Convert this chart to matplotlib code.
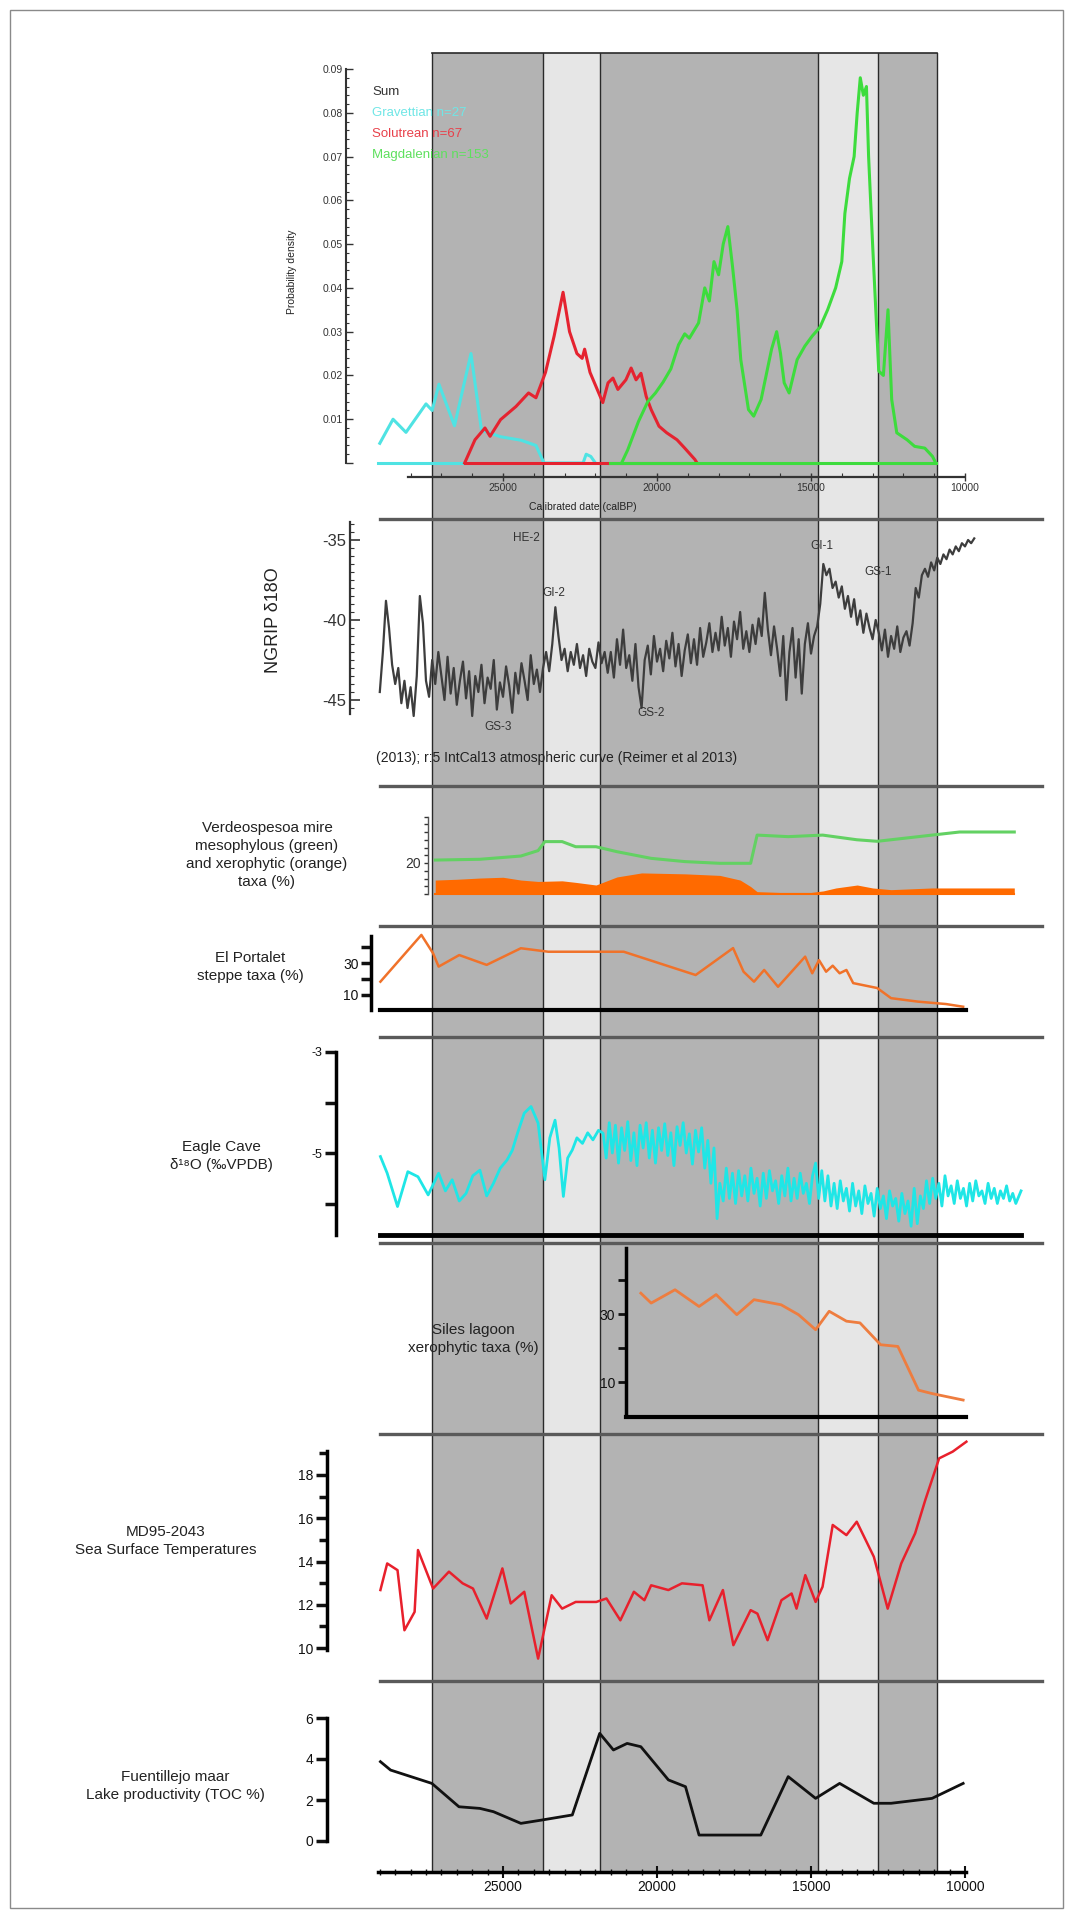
import numpy as np
import matplotlib
matplotlib.use("Agg")
import matplotlib.pyplot as plt
from matplotlib.lines import Line2D
from matplotlib.patches import Rectangle

plt.rcParams["font.family"] = ["Liberation Sans", "DejaVu Sans"]
plt.rcParams["axes.unicode_minus"] = False

# ---------------- data (ages in cal BP) ----------------
band_edges = [27290, 23710, 21840, 14770, 12820, 10910]
band_colors = ["#b3b3b3", "#e6e6e6", "#b3b3b3", "#e6e6e6", "#b3b3b3"]

# summed probability densities
legend_labels = ["Sum", "Gravettian n=27", "Solutrean n=67", "Magdalenian n=153"]
grav_base_t = [29050, 26250]
grav_t = [29000, 28570, 28150, 27500, 27300, 27080, 26575, 26040, 25700, 25080,
          24415, 23930, 23670, 22400, 22300, 22150, 22000]
grav_v = [0.0045, 0.010, 0.007, 0.0135, 0.012, 0.018, 0.0085, 0.025, 0.0075, 0.006,
          0.0052, 0.004, 0.0, 0.0, 0.002, 0.0015, 0.0]
solu_t = [26245, 25910, 25585, 25420, 25080, 24580, 24170, 23930, 23620, 23340,
          23050, 22840, 22600, 22430, 22350, 22175, 21760, 21590, 21430, 21270,
          21010, 20840, 20680, 20520, 20350, 20190, 19935, 19685, 19350, 19100,
          18770, 18700]
solu_v = [0.0, 0.0053, 0.008, 0.0061, 0.0099, 0.0129, 0.016, 0.0149, 0.0207, 0.029,
          0.039, 0.030, 0.025, 0.0239, 0.026, 0.0207, 0.0138, 0.0183, 0.0194, 0.0168,
          0.019, 0.0217, 0.019, 0.0205, 0.0152, 0.0122, 0.0084, 0.0069, 0.0053, 0.0034,
          0.0008, 0.0]
solu_base_t = [26245, 18700]
magd_base_t = [21510, 10950]
magd_t = [21150, 20950, 20600, 20300, 20050, 19800, 19550, 19300, 19100, 18950,
          18650, 18450, 18300, 18150, 18000, 17850, 17700, 17550, 17400, 17280,
          17030, 16860, 16620, 16280, 16115, 15990, 15870, 15710, 15450, 15200,
          14960, 14710, 14460, 14200, 14000, 13900, 13750, 13600, 13500, 13400,
          13300, 13200, 13130, 13000, 12800, 12650, 12500, 12380, 12215, 11880,
          11635, 11305, 11055, 10950]
magd_v = [0.0, 0.0030, 0.0095, 0.0140, 0.0160, 0.0185, 0.0215, 0.027, 0.0295, 0.0285,
          0.032, 0.040, 0.037, 0.046, 0.043, 0.050, 0.054, 0.045, 0.035, 0.0236,
          0.0122, 0.0107, 0.0145, 0.026, 0.030, 0.025, 0.0183, 0.016, 0.0236, 0.0267,
          0.029, 0.031, 0.035, 0.040, 0.046, 0.057, 0.065, 0.070, 0.080, 0.088,
          0.084, 0.086, 0.070, 0.050, 0.021, 0.020, 0.035, 0.0145, 0.0069, 0.0053,
          0.0038, 0.0034, 0.0015, 0.0]

# NGRIP d18O, 100-yr samples from 29000 cal BP
ngrip_start, ngrip_step = 29000, 100
ngrip_v = [-44.5, -42.0, -38.8, -40.5, -42.8, -44.0, -43.0, -45.2, -43.8, -45.5,
           -44.2, -46.0, -43.5, -38.5, -40.2, -43.8, -44.8, -42.5, -44.0, -42.0,
           -43.5, -45.0, -42.3, -44.6, -43.0, -45.3, -43.8, -42.6, -44.9, -43.2,
           -46.0, -43.5, -44.5, -42.8, -45.2, -43.6, -44.3, -42.5, -45.6, -43.9,
           -44.8, -42.9, -44.1, -45.8, -43.3, -44.6, -42.7, -43.8, -45.0, -42.2,
           -44.0, -43.1, -44.5, -43.0, -42.0, -43.2,
           -41.5, -39.2, -41.0, -42.5, -41.8,
           -43.2, -42.0, -42.8, -41.5, -43.0, -42.2, -43.5, -41.8, -42.6, -43.0,
           -41.4, -42.7, -42.0, -43.3,
           -42.0, -43.6, -41.2, -42.8, -40.6, -43.0, -42.2, -43.8, -41.5, -44.2,
           -45.5, -42.5, -41.6, -43.4, -41.0, -42.6, -41.8, -43.2, -41.3, -42.4,
           -40.8, -42.9, -41.5, -43.5, -41.9, -40.9, -42.7, -41.2, -42.8, -40.5,
           -42.3, -41.4,
           -40.2, -42.0, -40.8, -41.9, -39.8, -41.6, -40.5, -42.3, -40.1, -41.2,
           -39.5, -41.8, -40.7, -42.0, -40.3, -41.5, -39.9, -41.0, -38.3, -40.6,
           -42.2, -40.4, -41.8, -43.5, -41.0, -45.0, -42.0, -40.5, -43.6, -41.2,
           -44.6, -41.5, -40.2, -42.1, -41.0, -40.4, -39.0,
           -36.5, -37.2, -36.8, -38.0, -37.6, -38.6, -37.9, -39.3, -38.5, -39.8,
           -38.7, -40.3, -39.4, -40.8, -39.6, -40.5, -41.2, -40.0,
           -40.8, -41.9, -40.6, -42.3, -41.0, -41.8, -40.4, -42.0, -41.1, -40.7,
           -41.6, -40.2,
           -38.0, -38.6, -37.2, -36.8, -37.3, -36.4, -36.9, -36.1, -36.5, -35.9,
           -36.2, -35.6, -35.9, -35.4, -35.7, -35.2, -35.4, -35.0, -35.2, -34.9]
ngrip_labels = ["HE-2", "GI-2", "GS-3", "GS-2", "GI-1", "GS-1"]
ngrip_label_t = [24230, 23340, 25160, 20200, 14640, 12810]
ngrip_label_v = [-34.9, -38.3, -46.7, -45.8, -35.4, -37.0]

# Verdeospesoa mire
verd_green_t = [27200, 25750, 24420, 23860, 23640, 23080, 22640, 21980, 21300, 20190,
                19090, 17960, 16960, 16750, 15740, 14620, 13515, 12850, 12400, 11070,
                10175, 8400]
verd_green_v = [21.9, 22.4, 24.5, 28.0, 33.8, 33.8, 30.5, 30.5, 27.3, 23.0,
                20.9, 19.8, 19.8, 38.0, 37.0, 38.0, 35.0, 34.0, 35.0, 38.0,
                40.0, 40.0]
verd_orange_t = [27200, 26500, 25750, 25000, 24420, 23860, 23080, 22640, 21980, 21300,
                 20500, 19090, 17960, 17300, 16960, 16750, 16000, 15000, 14600, 14190,
                 13500, 13000, 12400, 11070, 8400]
verd_orange_v = [9.0, 9.5, 10.3, 10.8, 9.0, 8.1, 8.5, 7.5, 5.8, 11.0,
                 13.6, 13.0, 12.0, 9.0, 4.8, 1.5, 1.0, 1.0, 2.0, 3.9,
                 5.8, 3.9, 2.8, 3.9, 3.9]

# El Portalet steppe taxa
port_t = [28980, 27650, 27270, 27090, 26420, 25530, 24420, 23530, 21980, 21080,
          18745, 17530, 17190, 16850, 16520, 16070, 15630, 15190, 14960, 14740,
          14510, 14295, 14070, 13850, 13630, 12850, 12400, 11520, 10620, 10060]
port_v = [18.4, 47.9, 36.3, 27.9, 35.2, 29.0, 39.5, 37.3, 37.3, 37.3,
          22.6, 39.6, 24.7, 18.4, 25.8, 15.2, 24.7, 34.2, 23.7, 32.0,
          24.7, 28.5, 23.7, 25.8, 17.5, 14.4, 8.0, 5.8, 4.3, 2.6]

# Eagle Cave d18O
eagle_t = [28980, 28760, 28425, 28090, 27760, 27430, 27090, 26870, 26650, 26420,
           26200, 25980, 25750, 25530, 25310, 25090, 24870, 24700, 24530, 24310,
           24090, 23860, 23640, 23480, 23310, 23180, 23040, 22900, 22750, 22600,
           22420, 22250, 22080, 21900, 21750,
           21650, 21550, 21450, 21350, 21250, 21150, 21050, 20950, 20850, 20750,
           20650, 20550, 20450, 20350, 20250, 20150, 20050, 19950, 19850, 19750,
           19650, 19550, 19450, 19350, 19250, 19150, 19050, 18950, 18850, 18750,
           18650, 18550, 18450, 18350, 18250, 18150, 18050, 17960,
           17850, 17750, 17650, 17550, 17450, 17350, 17250, 17150, 17050, 16950,
           16850, 16750, 16650, 16550, 16450, 16350, 16250, 16150, 16050, 15950,
           15850, 15750, 15650, 15550, 15450, 15350, 15250, 15150, 15050, 14950,
           14850, 14750, 14650,
           14550, 14450, 14350, 14250, 14150, 14050, 13950, 13850, 13750, 13650,
           13550, 13450, 13350, 13250, 13150, 13050, 12950, 12850, 12750, 12650,
           12550, 12450, 12350, 12250, 12150, 12050, 11950, 11850, 11750, 11650,
           11550, 11450, 11350, 11250,
           11150, 11050, 10950, 10850, 10750, 10650, 10550, 10450, 10350, 10250,
           10150, 10050, 9950, 9850, 9750, 9650, 9550, 9450, 9350, 9250,
           9150, 9050, 8950, 8850, 8750, 8650, 8550, 8450, 8350, 8250, 8180]
eagle_v = [-5.07, -5.40, -6.06, -5.37, -5.47, -5.83, -5.40, -5.75, -5.53, -5.95,
           -5.80, -5.45, -5.34, -5.85, -5.60, -5.30, -5.14, -4.95, -4.61, -4.21,
           -4.08, -4.41, -5.53, -4.70, -4.35, -4.90, -5.86, -5.10, -4.94, -4.70,
           -4.81, -4.60, -4.74, -4.55, -4.61,
           -5.10, -4.40, -5.00, -4.45, -5.20, -4.50, -4.95, -4.38, -5.15, -4.60,
           -5.25, -4.45, -4.90, -4.40, -5.10, -4.55, -5.20, -4.50, -4.95, -4.42,
           -5.05, -4.60, -5.25, -4.48, -4.85, -4.40, -5.00, -4.62, -5.22, -4.55,
           -4.98, -4.50, -5.30, -4.75, -5.60, -4.90, -6.30, -5.60,
           -5.95, -5.30, -5.90, -5.40, -6.00, -5.35, -5.85, -5.45, -5.95, -5.30,
           -5.80, -5.50, -6.05, -5.40, -5.90, -5.35, -5.75, -5.55, -6.00, -5.45,
           -5.85, -5.30, -5.95, -5.50, -5.90, -5.40, -5.80, -5.60, -6.00, -5.45,
           -5.20, -5.90, -5.35,
           -5.95, -5.45, -6.05, -5.60, -6.10, -5.55, -5.95, -5.70, -6.15, -5.60,
           -6.05, -5.75, -6.20, -5.65, -6.00, -5.80, -6.25, -5.70, -6.10, -5.85,
           -6.30, -5.75, -6.05, -5.90, -6.35, -5.80, -6.20, -5.95, -6.45, -5.70,
           -6.40, -5.85, -6.10, -5.55,
           -6.00, -5.50, -5.90, -5.60, -6.05, -5.45, -5.85, -5.65, -6.00, -5.55,
           -5.90, -5.70, -6.05, -5.60, -5.95, -5.55, -5.85, -5.75, -6.00, -5.60,
           -5.90, -5.70, -6.00, -5.75, -5.90, -5.65, -5.95, -5.80, -6.00, -5.85, -5.75]

# Siles lagoon xerophytic taxa
siles_t = [20525, 20190, 19415, 18635, 18080, 17410, 16850, 15970, 15405, 14850,
           14410, 13850, 13410, 12740, 12180, 11510, 11070, 10060]
siles_v = [36.1, 33.2, 37.1, 32.2, 35.7, 29.8, 34.2, 32.7, 29.8, 25.4,
           30.8, 27.9, 27.4, 21.0, 20.5, 7.7, 6.7, 4.8]

# MD95-2043 SST
md95_t = [28980, 28760, 28425, 28200, 27870, 27760, 27270, 26755, 26310, 25975,
          25530, 25020, 24750, 24310, 23860, 23420, 23080, 22640, 21970, 21640,
          21190, 20750, 20410, 20190, 19630, 19190, 18520, 18300, 17860, 17520,
          16960, 16740, 16410, 15960, 15630, 15470, 15185, 14850, 14625, 14295,
          13850, 13515, 12960, 12510, 12070, 11620, 11290, 10840, 10400, 9955]
md95_v = [12.68, 13.91, 13.6, 10.82, 11.67, 14.53, 12.75, 13.53, 12.99, 12.75,
          11.36, 13.68, 12.06, 12.6, 9.51, 12.44, 11.82, 12.13, 12.13, 12.29,
          11.28, 12.6, 12.21, 12.9, 12.68, 12.99, 12.9, 11.28, 12.68, 10.13,
          11.75, 11.59, 10.36, 12.21, 12.52, 11.82, 13.37, 12.13, 12.83, 15.69,
          15.22, 15.84, 14.22, 11.82, 13.91, 15.3, 16.84, 18.77, 19.08, 19.54]

# Fuentillejo maar TOC
fuen_t = [28980, 28650, 27990, 27310, 26870, 26430, 25750, 25310, 24420, 23750,
          22750, 21860, 21415, 20970, 20525, 19630, 19075, 18635, 17960, 16630,
          15740, 14850, 14070, 12960, 12400, 11070, 10060]
fuen_v = [3.87, 3.46, 3.14, 2.81, 2.24, 1.67, 1.59, 1.43, 0.86, 1.02,
          1.27, 5.25, 4.44, 4.76, 4.6, 2.98, 2.65, 0.29, 0.29, 0.29,
          3.14, 2.08, 2.81, 1.84, 1.84, 2.08, 2.81]

# ---------------- layout helpers (pixel geometry of the page) ----------------
W, H = 1073, 1921
L, R = 250, 1060
fig = plt.figure(figsize=(W / 100, H / 100), dpi=100)


def age_at(px):
    return 25000 - (px - 503) / 0.0308


def panel(top, bot, va, ya, vb, yb):
    ax = fig.add_axes([L / W, 1 - bot / H, (R - L) / W, (bot - top) / H])
    ax.set_xlim(age_at(L), age_at(R))
    upp = (vb - va) / (ya - yb)
    ax.set_ylim(va - (bot - ya) * upp, va + (ya - top) * upp)
    ax.patch.set_visible(False)
    for s in ["top", "right", "bottom"]:
        ax.spines[s].set_visible(False)
    ax.set_xticks([])
    ax.box = (top, bot)
    return ax


def left_axis(ax, px, lo, hi, lw=2.5, color="k"):
    sp = ax.spines["left"]
    sp.set_position(("axes", (px - L) / (R - L)))
    sp.set_bounds(lo, hi)
    sp.set_linewidth(lw)
    sp.set_color(color)


def base_line(ax, py, px0, px1, lw=3, color="k"):
    top, bot = ax.box
    sp = ax.spines["bottom"]
    sp.set_visible(True)
    sp.set_position(("axes", (bot - py) / (bot - top)))
    sp.set_bounds(age_at(px0), age_at(px1))
    sp.set_linewidth(lw)
    sp.set_color(color)


def ftext(px, py, s, **kw):
    fig.text(px / W, 1 - py / H, s, **kw)


# ---------------- background bands ----------------
ax_bg = fig.add_axes([L / W, 1 - 1872 / H, (R - L) / W, (1872 - 53) / H])
ax_bg.set_xlim(age_at(L), age_at(R))
ax_bg.set_ylim(0, 1)
ax_bg.axis("off")
for i, c in enumerate(band_colors):
    ax_bg.axvspan(band_edges[i], band_edges[i + 1], color=c, lw=0)
for e in band_edges:
    ax_bg.axvline(e, color="#2a2a2a", lw=1)
ax_bg.plot([band_edges[0], band_edges[-1]], [1, 1], color="#2a2a2a", lw=1.2, clip_on=False)

txt = "#222222"

# ---------------- 1. summed probability ----------------
ax1 = panel(55, 500, 0, 463, 0.09, 69)
left_axis(ax1, 346, 0, 0.09, lw=1.5, color="#333333")
ax1.set_yticks(np.arange(0, 0.0901, 0.01))
ax1.set_yticklabels([""] + ["%.2f" % v for v in np.arange(0.01, 0.0901, 0.01)])
ax1.set_yticks(np.arange(0, 0.0901, 0.002), minor=True)
ax1.tick_params(axis="y", which="major", direction="in", length=5, width=1, labelsize=7.5,
                colors="#333333", pad=2)
ax1.tick_params(axis="y", which="minor", direction="in", length=2, width=0.8, colors="#333333")
base_line(ax1, 477, 408, 964, lw=1.6, color="#333333")
ax1.set_xticks([25000, 20000, 15000, 10000])
ax1.set_xticks(np.arange(28000, 9999, -1000), minor=True)
ax1.tick_params(axis="x", which="major", direction="inout", length=6, width=1, labelsize=7.5,
                colors="#333333", pad=1)
ax1.tick_params(axis="x", which="minor", direction="in", length=3, width=0.8, colors="#333333")
ax1.plot(grav_base_t, [0, 0], color="#4fe3e3", lw=2.2)
ax1.plot(grav_t, grav_v, color="#4fe3e3", lw=2.2)
ax1.plot(solu_base_t, [0, 0], color="#e52330", lw=2.2)
ax1.plot(solu_t, solu_v, color="#e52330", lw=2.2)
ax1.plot(magd_base_t, [0, 0], color="#3ddc3d", lw=2.2)
ax1.plot(magd_t, magd_v, color="#3ddc3d", lw=2.2)
leg_colors = ["#333333", "#6fe6e6", "#e8404a", "#5ee05e"]
for i, (lab, c) in enumerate(zip(legend_labels, leg_colors)):
    ftext(372, 92 + 21 * i, lab, color=c, fontsize=9.5, va="center", ha="left")
ftext(292, 272, "Probability density", rotation=90, fontsize=7.5, color=txt,
      ha="center", va="center")
ftext(583, 507, "Calibrated date (calBP)", fontsize=7.5, color=txt, ha="center", va="center")

# ---------------- 2. NGRIP ----------------
ax2 = panel(519, 786, -45, 700, -35, 540)
left_axis(ax2, 350, -45.9, -33.9, lw=1.6, color="#333333")
ax2.set_yticks([-45, -40, -35])
ax2.set_yticks(np.arange(-45.5, -33.9, 0.5), minor=True)
ax2.tick_params(axis="y", which="major", direction="in", length=7, width=1.2, labelsize=12,
                colors="#333333", pad=3)
ax2.tick_params(axis="y", which="minor", direction="in", length=3, width=0.8, colors="#333333")
ngrip_t = np.arange(ngrip_start, ngrip_start - ngrip_step * len(ngrip_v), -ngrip_step)
ax2.plot(ngrip_t, ngrip_v, color="#3d3d3d", lw=1.6)
for lab, t, v in zip(ngrip_labels, ngrip_label_t, ngrip_label_v):
    ax2.text(t, v, lab, fontsize=8.5, color="#333333", ha="center", va="center")
ftext(273, 620, "NGRIP δ18O", rotation=90, fontsize=13, color=txt, ha="center", va="center")
ftext(376, 758, "(2013); r:5 IntCal13 atmospheric curve (Reimer et al 2013)", fontsize=10,
      color=txt, ha="left", va="center")

# ---------------- 3. Verdeospesoa ----------------
ax3 = panel(786, 926, 0, 894, 20, 863)
left_axis(ax3, 428, 0, 50, lw=1, color="#555555")
ax3.set_yticks(np.arange(0, 51, 5))
ax3.set_yticklabels(["20" if v == 20 else "" for v in range(0, 51, 5)])
ax3.tick_params(axis="y", direction="out", length=3, width=1, labelsize=10, colors="#333333", pad=2)
ax3.fill_between(verd_orange_t, 0, verd_orange_v, color="#ff6a00", lw=0)
ax3.plot([verd_orange_t[0], verd_orange_t[-1]], [0.3, 0.3], color="#ff6a00", lw=1.5)
ax3.plot(verd_green_t, verd_green_v, color="#63d163", lw=2.2)
ftext(267, 855, "Verdeospesoa mire\nmesophylous (green)\nand xerophytic (orange)\ntaxa (%)",
      fontsize=11, color=txt, ha="center", va="center", multialignment="center", linespacing=1.35)

# ---------------- 4. El Portalet ----------------
ax4 = panel(926, 1037, 10, 995, 30, 963.3)
left_axis(ax4, 371, 0.5, 47.5)
ax4.set_yticks([10, 20, 30, 40])
ax4.set_yticklabels(["10", "", "30", ""])
ax4.tick_params(axis="y", direction="out", length=7, width=2.5, labelsize=10, colors="#111111", pad=2)
base_line(ax4, 1010, 380, 966, lw=3)
ax4.plot(port_t, port_v, color="#f0722a", lw=1.8)
ftext(250, 967, "El Portalet\nsteppe taxa (%)", fontsize=11, color=txt, ha="center",
      va="center", multialignment="center", linespacing=1.35)

# ---------------- 5. Eagle Cave ----------------
ax5 = panel(1037, 1243, -5, 1153, -3, 1052)
left_axis(ax5, 336, -6.62, -3)
ax5.set_yticks([-6, -5, -4, -3])
ax5.set_yticklabels(["", "-5", "", "-3"])
ax5.tick_params(axis="y", direction="out", length=8, width=2.5, labelsize=9, colors="#111111", pad=2)
base_line(ax5, 1235, 380, 1021, lw=3.5)
ax5.plot(eagle_t, eagle_v, color="#1fe6e6", lw=2)
ftext(221, 1156, "Eagle Cave\nδ¹⁸O (‰VPDB)", fontsize=11, color=txt, ha="center",
      va="center", multialignment="center", linespacing=1.35)

# ---------------- 6. Siles ----------------
ax6 = panel(1243, 1434, 10, 1382.3, 30, 1314)
left_axis(ax6, 626, 0, 49.3)
ax6.set_yticks([10, 20, 30, 40])
ax6.set_yticklabels(["10", "", "30", ""])
ax6.tick_params(axis="y", direction="out", length=6, width=2, labelsize=10, colors="#111111", pad=2)
base_line(ax6, 1416.7, 626, 966, lw=3)
ax6.plot(siles_t, siles_v, color="#ee7d3f", lw=2)
ftext(473, 1339, "Siles lagoon\nxerophytic taxa (%)", fontsize=11, color=txt, ha="center",
      va="center", multialignment="center", linespacing=1.35)

# ---------------- 7. MD95-2043 ----------------
ax7 = panel(1434, 1681, 10, 1648, 18, 1475)
left_axis(ax7, 327, 9.9, 19.1)
ax7.set_yticks([10, 12, 14, 16, 18])
ax7.set_yticks([11, 13, 15, 17, 19], minor=True)
ax7.tick_params(axis="y", which="major", direction="out", length=8, width=2.5, labelsize=10,
                colors="#111111", pad=2)
ax7.tick_params(axis="y", which="minor", direction="out", length=6, width=2.5, colors="#111111")
ax7.plot(md95_t, md95_v, color="#e8202c", lw=1.8)
ftext(166, 1541, "MD95-2043\nSea Surface Temperatures", fontsize=11, color=txt, ha="center",
      va="center", multialignment="center", linespacing=1.35)

# ---------------- 8. Fuentillejo ----------------
ax8 = panel(1681, 1910, 0, 1841, 6, 1718)
left_axis(ax8, 327, 0, 6)
ax8.set_yticks([0, 2, 4, 6])
ax8.tick_params(axis="y", direction="out", length=8, width=2.5, labelsize=10, colors="#111111", pad=2)
base_line(ax8, 1872, 378, 966, lw=2.5)
ax8.set_xticks([25000, 20000, 15000, 10000])
ax8.set_xticks(np.arange(29000, 9999, -500), minor=True)
ax8.tick_params(axis="x", which="major", direction="inout", length=8, width=1.5, labelsize=10,
                colors="#111111", pad=2)
ax8.tick_params(axis="x", which="minor", direction="inout", length=4, width=1, colors="#111111")
ax8.plot(fuen_t, fuen_v, color="#111111", lw=2)
ftext(175, 1786, "Fuentillejo maar\nLake productivity (TOC %)", fontsize=11, color=txt,
      ha="center", va="center", multialignment="center", linespacing=1.35)

# ---------------- separators and frame ----------------
for py in [519, 786, 926, 1037, 1243, 1434, 1681]:
    fig.add_artist(Line2D([380 / W, 1042 / W], [1 - py / H, 1 - py / H], color="#5a5a5a",
                          lw=2.4, transform=fig.transFigure))
fig.add_artist(Rectangle((10 / W, 1 - 1908 / H), 1053 / W, 1898 / H, fill=False,
                         ec="#8a8a8a", lw=1, transform=fig.transFigure))

fig.savefig("out.png", dpi=100)
